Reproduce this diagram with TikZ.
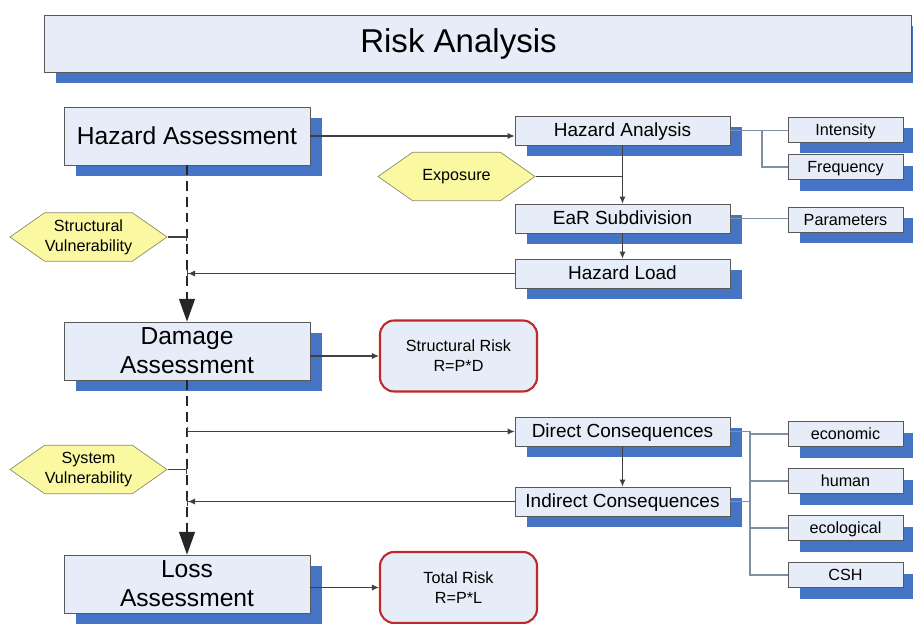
\documentclass[tikz,border=0pt]{standalone}
\usepackage{fontspec}
\setmainfont{Liberation Sans}
\usepackage{xcolor}
\usepackage{tikz}
\usetikzlibrary{arrows.meta,shapes.symbols,shadows}

\definecolor{boxfill}{HTML}{E6ECF8}
\definecolor{shadowblue}{HTML}{4674C4}
\definecolor{hexfill}{HTML}{FBF8A2}
\definecolor{hexline}{HTML}{8C8C6A}
\definecolor{riskred}{HTML}{C0282A}
\definecolor{linkgray}{HTML}{7F90A4}

\begin{document}
\begin{tikzpicture}[x=0.02cm, y=-0.02cm, >=Latex,
  every box/.style={draw=black!65, fill=boxfill, inner sep=0pt, align=center,
    drop shadow={shadow xshift=7pt, shadow yshift=-6.5pt, fill=shadowblue, opacity=1}},
  title box/.style={minimum width=17.34cm, minimum height=1.14cm,
    font=\fontsize{18.8}{22}\selectfont},
  stage box/.style={minimum width=4.92cm, minimum height=1.16cm,
    font=\fontsize{14}{16.5}\selectfont},
  step box/.style={minimum width=4.3cm, minimum height=0.58cm,
    text height=0.72em, text depth=0.04em, font=\fontsize{10.8}{13}\selectfont},
  item box/.style={minimum width=2.3cm, minimum height=0.5cm,
    text height=0.72em, text depth=0.04em, font=\fontsize{9.2}{11}\selectfont},
  hexa/.style={shape=signal, signal to=west and east, signal pointer angle=70,
    draw=hexline, fill=hexfill, inner sep=0pt, align=center,
    minimum width=3.14cm, minimum height=0.97cm, font=\fontsize{9.2}{11.3}\selectfont},
  risk/.style={draw=riskred, line width=1.2pt, rounded corners=8pt, fill=boxfill,
    align=center, minimum width=3.14cm, minimum height=1.42cm,
    font=\fontsize{9.2}{11.3}\selectfont},
  link/.style={draw=black!75, line width=0.6pt},
  sublink/.style={draw=linkgray, line width=0.6pt},
  feed/.style={link, -{Latex[length=4pt,width=3.5pt]}},
  tap/.style={link, -{Bar[width=5pt]}},
  branch/.style={link, {Bar[width=5pt]}-{Latex[length=4pt,width=3.5pt]}},
  return/.style={link, -{Latex[length=4pt,width=3.5pt] Bar[width=5pt]}},
  trunk/.style={draw=black!85, line width=1.1pt, dash pattern=on 5.5pt off 3.5pt,
    -{Triangle[length=13pt,width=9pt]}}]

\useasboundingbox (0,0) rectangle (913,624);
\clip (0,0) rectangle (913,624);

\node [every box, title box] (title) at (477.5,43.5) {\hspace*{-0.76cm}Risk Analysis};

\foreach \n/\t/\y in {hazard/{Hazard Assessment}/136, damage/{Damage\\Assessment}/351, loss/{Loss\\Assessment}/584}
  \node [every box, stage box] (stage-\n) at (187,\y) {\t};

\foreach \n/\t/\y in {analysis/Hazard Analysis/130.5, ear/EaR Subdivision/218.5, load/Hazard Load/273.5, direct/Direct Consequences/431.5, indirect/Indirect Consequences/501.5}
  \node [every box, step box] (step-\n) at (622.5,\y) {\t};

\foreach \n/\t/\y in {intensity/Intensity/129.5, frequency/Frequency/167, parameters/Parameters/219.5}
  \node [every box, item box] (item-\n) at (845.5,\y) {\t};

\foreach \t [count=\i] in {economic, human, ecological, CSH}
  \node [every box, item box] (cons-\i) at (845.5,387+47*\i) {\t};

\node [hexa] (hexa-expo) at (456.5,176.5) {Exposure};
\node [hexa] (hexa-struct) at (88.5,237) {Structural\\Vulnerability};
\node [hexa] (hexa-system) at (88.5,469.5) {System\\Vulnerability};

\node [risk] (risk-struct) at (458.5,356) {Structural Risk\\R=P*D};
\node [risk] (risk-total) at (458.5,587.5) {Total Risk\\R=P*L};

\coordinate (fork) at (762,0);
\coordinate (bus) at (750,0);

\draw [trunk] (stage-hazard) -- (stage-damage);
\draw [trunk] (stage-damage) -- (stage-loss);

\draw [feed] (stage-hazard.east) -- (stage-hazard.east -| step-analysis.west);
\draw [link] (hexa-expo.east) -- (hexa-expo.east -| step-analysis.south);
\draw [feed] (step-analysis) -- (step-ear);
\draw [feed] (step-ear) -- (step-load);
\draw [return] (step-load.west) -- (step-load.west -| stage-hazard.south);
\draw [tap] (hexa-struct.east) -- (hexa-struct.east -| stage-hazard.south);

\draw [feed] (stage-damage.east |- risk-struct.west) -- (risk-struct.west);
\draw [feed] (stage-loss.east |- risk-total.west) -- (risk-total.west);

\draw [branch] (stage-damage.south |- step-direct.west) -- (step-direct.west);
\draw [feed] (step-direct) -- (step-indirect);
\draw [return] (step-indirect.west) -- (step-indirect.west -| stage-damage.south);
\draw [tap] (hexa-system.east) -- (hexa-system.east -| stage-damage.south);

\draw [sublink] (step-analysis.east) -- (step-analysis.east -| item-intensity.west);
\draw [sublink] (fork |- step-analysis.east) |- (item-frequency.west);
\draw [sublink] (step-ear.east) -- (step-ear.east -| item-parameters.west);

\draw [sublink] (step-direct.east) -| (bus |- cons-4.west) -- (cons-4.west);
\draw [sublink] (step-indirect.east) -- (step-indirect.east -| bus);
\foreach \i in {1,...,3}
  \draw [sublink] (bus |- cons-\i.west) -- (cons-\i.west);

\end{tikzpicture}
\end{document}
